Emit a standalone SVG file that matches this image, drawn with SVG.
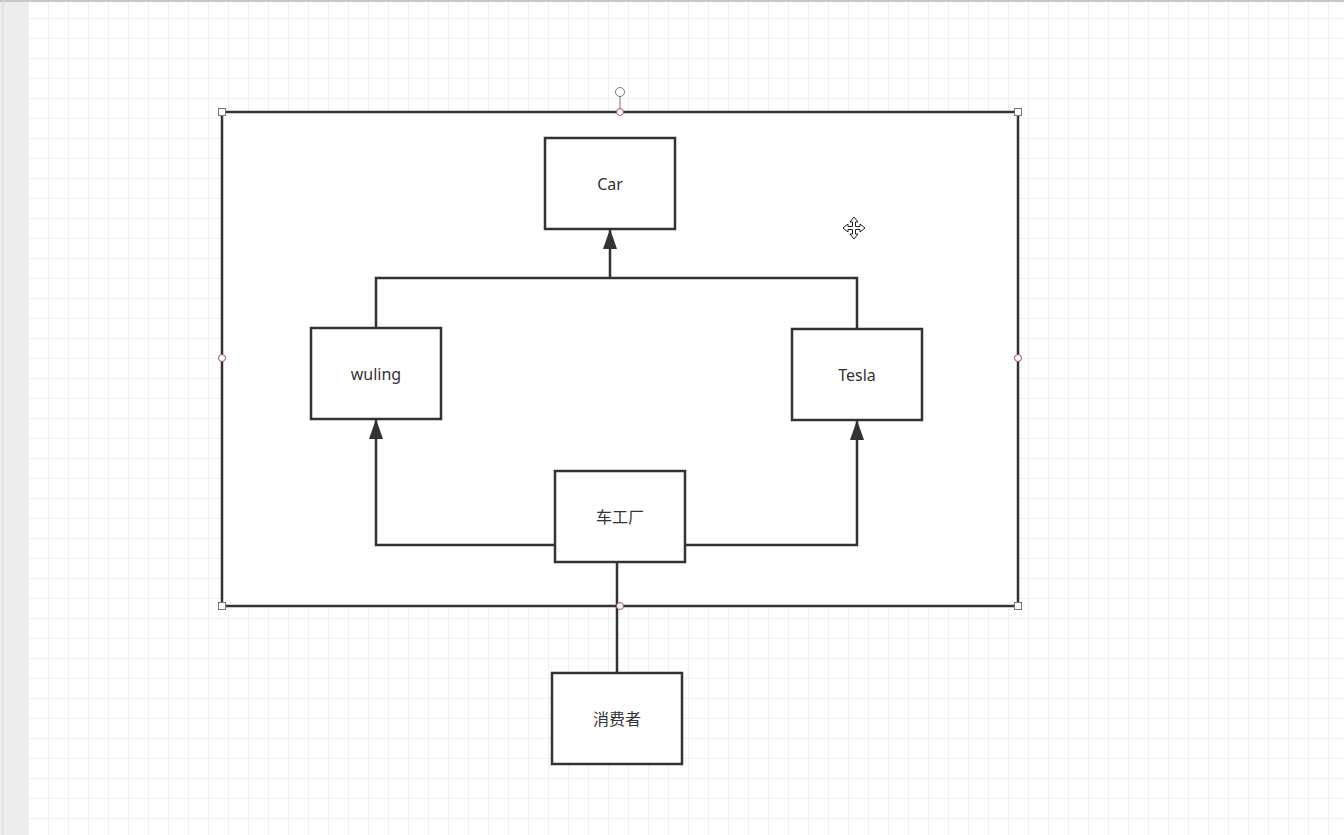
<svg xmlns="http://www.w3.org/2000/svg" width="1344" height="835" viewBox="0 0 1344 835">
<defs>
<pattern id="grid" x="28" y="18" width="20" height="20" patternUnits="userSpaceOnUse">
<path d="M0 0H20M0 0V20" fill="none" stroke="#e2e2e2" stroke-width="1"/>
</pattern>
<marker id="arr" viewBox="0 0 20 14" refX="20" refY="7" markerWidth="20" markerHeight="14" markerUnits="userSpaceOnUse" orient="auto">
<path d="M20 7L0 0V14Z" fill="#333"/>
</marker>
<style>
.box{fill:#fff;stroke:#333;stroke-width:2.5}
.lbl{font-family:"Noto Sans","Noto Sans CJK SC",sans-serif;font-size:16px;fill:#333;text-anchor:middle;dominant-baseline:central}
.edge{fill:none;stroke:#333;stroke-width:2.5}
.sq{fill:#fff;stroke:#777;stroke-width:1}
.ci{fill:#fff;stroke:#a05070;stroke-width:1}
</style>
</defs>
<rect x="0" y="0" width="1344" height="835" fill="#fff"/>
<rect x="28" y="0" width="1316" height="835" fill="url(#grid)"/>
<rect x="0" y="0" width="28" height="835" fill="#ededed"/>
<line x1="0" y1="1" x2="1344" y2="1" stroke="#c8c8c8" stroke-width="2"/>
<line x1="3" y1="0" x2="3" y2="835" stroke="#d8d8d8" stroke-width="1"/>

<g id="container">
<rect x="222" y="112" width="796" height="494" class="box"/>
</g>

<g id="connectors">
<path class="edge" d="M610 278V229" marker-end="url(#arr)"/>
<path class="edge" d="M376 328V278H857V329"/>
<path class="edge" d="M555 545H376V419" marker-end="url(#arr)"/>
<path class="edge" d="M685 545H857V420" marker-end="url(#arr)"/>
<path class="edge" d="M617 562V673"/>
</g>

<g id="car"><rect x="545" y="138" width="130" height="91" class="box"/><text x="610" y="184" class="lbl">Car</text></g>
<g id="wuling"><rect x="311" y="328" width="130" height="91" class="box"/><text x="376" y="374" class="lbl">wuling</text></g>
<g id="tesla"><rect x="792" y="329" width="130" height="91" class="box"/><text x="857" y="375" class="lbl">Tesla</text></g>
<g id="factory"><rect x="555" y="471" width="130" height="91" class="box"/><text x="620" y="517" class="lbl">车工厂</text></g>
<g id="consumer"><rect x="552" y="673" width="130" height="91" class="box"/><text x="617" y="719" class="lbl">消费者</text></g>

<g id="handles">
<line x1="620" y1="96" x2="620" y2="112" stroke="#777" stroke-width="1"/>
<circle cx="620" cy="92" r="4.5" fill="#fff" stroke="#777" stroke-width="1"/>
<rect x="218.5" y="108.5" width="7" height="7" class="sq"/>
<rect x="1014.5" y="108.5" width="7" height="7" class="sq"/>
<rect x="218.5" y="602.5" width="7" height="7" class="sq"/>
<rect x="1014.5" y="602.5" width="7" height="7" class="sq"/>
<circle cx="620" cy="112" r="3.5" class="ci"/>
<circle cx="620" cy="606" r="3.5" class="ci"/>
<circle cx="222" cy="358" r="3.5" class="ci"/>
<circle cx="1018" cy="358" r="3.5" class="ci"/>
</g>

<g id="cursor" transform="translate(854 228)">
<path d="M0 -11L-4 -6H-1.5V-1.5H-6V-4L-11 0L-6 4V1.5H-1.5V6H-4L0 11L4 6H1.5V1.5H6V4L11 0L6 -4V-1.5H1.5V-6H4Z" fill="#fff" stroke="#222" stroke-width="1"/>
</g>
</svg>
